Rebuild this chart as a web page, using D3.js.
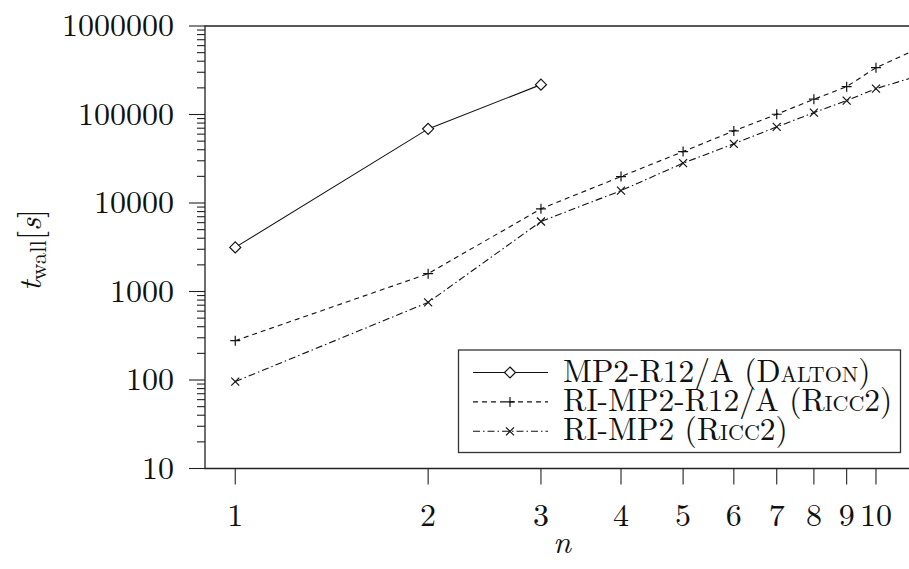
<!DOCTYPE html>
<html lang="en">
<head>
  <meta charset="UTF-8">
  <title>Wall time vs n</title>
  <script src="https://d3js.org/d3.v7.min.js"></script>
  <style>
    body {
      margin: 0;
      background-color: white;
    }

    .axis-line {
      stroke: #222;
      stroke-width: 1.3;
      fill: none;
    }

    .tick {
      stroke: #222;
      stroke-width: 1.1;
    }

    .series {
      fill: none;
      stroke: #111;
      stroke-width: 1.1;
    }

    .marker {
      fill: none;
      stroke: #111;
      stroke-width: 1.2;
    }
  </style>
</head>
<body>

<script>
  // data
  const nValues = [1, 2, 3, 4, 5, 6, 7, 8, 9, 10, 12];
  const daltonN = [1, 2, 3];
  const daltonTimes = [3150, 68800, 217500];
  const riR12Times = [278, 1590, 8600, 19900, 38100, 65300, 100700, 148800, 206500, 338000, 616000];
  const riMp2Times = [96, 753, 6180, 13800, 28200, 46600, 72500, 105000, 143500, 196000, 292000];

  const seriesNames = ["MP2-R12/A (Dalton)", "RI-MP2-R12/A (Ricc2)", "RI-MP2 (Ricc2)"];
  const xTicks = [1, 2, 3, 4, 5, 6, 7, 8, 9, 10];
  const yTicks = [10, 100, 1000, 10000, 100000, 1000000];

  const width = 909;
  const height = 569;
  const plotLeft = 205, plotTop = 26, plotBottom = 468.5, plotRight = 909;
  const FONT = '"Latin Modern Roman", "Liberation Serif", serif';

  const svg = d3.select("body").append("svg")
    .attr("width", width)
    .attr("height", height)
    .style("display", "block");

  function label(sel) {
    return sel.style("font-family", FONT).style("font-size", "32px").attr("fill", "#111");
  }

  const x = d3.scaleLog().domain([0.897, 11.26]).range([plotLeft, plotRight]);
  const y = d3.scaleLog().domain([10, 1000000]).range([plotBottom, plotTop]);

  // clip for the plot area
  svg.append("clipPath").attr("id", "plotClip")
    .append("rect")
    .attr("x", plotLeft).attr("y", plotTop)
    .attr("width", plotRight - plotLeft).attr("height", plotBottom - plotTop);

  // y ticks (major + minor)
  const minorY = [];
  yTicks.slice(0, -1).forEach(d => {
    for (let k = 2; k <= 9; k++) minorY.push(d * k);
  });

  svg.selectAll(".ymajor")
    .data(yTicks)
    .enter().append("line")
    .attr("class", "tick")
    .attr("x1", plotLeft - 16).attr("x2", plotLeft)
    .attr("y1", d => y(d)).attr("y2", d => y(d));

  svg.selectAll(".yminor")
    .data(minorY)
    .enter().append("line")
    .attr("class", "tick")
    .attr("x1", plotLeft - 8).attr("x2", plotLeft)
    .attr("y1", d => y(d)).attr("y2", d => y(d));

  label(svg.selectAll(".ylabel")
    .data(yTicks)
    .enter().append("text")
    .attr("text-anchor", "end")
    .attr("x", plotLeft - 31)
    .attr("y", d => y(d) + 10)
    .text(d => d3.format("d")(d)));

  // x ticks
  svg.selectAll(".xtick")
    .data(xTicks)
    .enter().append("line")
    .attr("class", "tick")
    .attr("x1", d => x(d)).attr("x2", d => x(d))
    .attr("y1", plotBottom).attr("y2", plotBottom + 16);

  label(svg.selectAll(".xlabel")
    .data(xTicks)
    .enter().append("text")
    .attr("text-anchor", "middle")
    .attr("x", d => x(d))
    .attr("y", 526)
    .text(d => d));

  // axis lines (no right border in the reference)
  svg.append("path")
    .attr("class", "axis-line")
    .attr("d", `M${plotRight},${plotTop}H${plotLeft}V${plotBottom}H${plotRight}`);

  // series
  const plot = svg.append("g").attr("clip-path", "url(#plotClip)");
  const line = d3.line().x(d => x(d[0])).y(d => y(d[1]));

  const dalton = daltonN.map((n, i) => [n, daltonTimes[i]]);
  const riR12 = nValues.map((n, i) => [n, riR12Times[i]]);
  const riMp2 = nValues.map((n, i) => [n, riMp2Times[i]]);

  const dashR12 = "5,4";
  const dashMp2 = "7,3,1.5,3";

  plot.append("path").attr("class", "series").attr("d", line(dalton));
  plot.append("path").attr("class", "series").attr("stroke-dasharray", dashR12).attr("d", line(riR12));
  plot.append("path").attr("class", "series").attr("stroke-dasharray", dashMp2).attr("d", line(riMp2));

  function diamond(g, cx, cy) {
    g.append("path")
      .attr("class", "marker")
      .style("fill", "white")
      .attr("d", `M${cx},${cy - 5.5}L${cx + 5.5},${cy}L${cx},${cy + 5.5}L${cx - 5.5},${cy}Z`);
  }
  function plus(g, cx, cy) {
    g.append("path")
      .attr("class", "marker")
      .attr("d", `M${cx - 5},${cy}H${cx + 5}M${cx},${cy - 5}V${cy + 5}`);
  }
  function cross(g, cx, cy) {
    g.append("path")
      .attr("class", "marker")
      .attr("d", `M${cx - 4},${cy - 4}L${cx + 4},${cy + 4}M${cx - 4},${cy + 4}L${cx + 4},${cy - 4}`);
  }

  dalton.forEach(d => diamond(plot, x(d[0]), y(d[1])));
  riR12.forEach(d => plus(plot, x(d[0]), y(d[1])));
  riMp2.forEach(d => cross(plot, x(d[0]), y(d[1])));

  // axis titles
  const yTitle = label(svg.append("text")
    .attr("transform", "translate(41,250) rotate(-90)")
    .attr("text-anchor", "middle"));
  yTitle.append("tspan").style("font-style", "italic").text("t");
  yTitle.append("tspan").attr("dy", 5).style("font-size", "23px").text("wall");
  yTitle.append("tspan").attr("dy", -5).text("[");
  yTitle.append("tspan").style("font-style", "italic").text("s");
  yTitle.append("tspan").text("]");

  label(svg.append("text")
    .attr("text-anchor", "middle")
    .attr("x", 562).attr("y", 553)
    .style("font-style", "italic")
    .text("n"));

  // legend
  const legend = svg.append("g");
  legend.append("rect")
    .attr("x", 458.5).attr("y", 350)
    .attr("width", 442).attr("height", 102.5)
    .attr("fill", "white")
    .attr("stroke", "#333")
    .attr("stroke-width", 1.3);

  const legendDash = [null, dashR12, dashMp2];
  const legendMark = [diamond, plus, cross];

  seriesNames.forEach((name, i) => {
    const cy = 372.5 + i * 29.4;
    legend.append("line")
      .attr("class", "series")
      .attr("x1", 473).attr("x2", 548)
      .attr("y1", cy).attr("y2", cy)
      .attr("stroke-dasharray", legendDash[i]);
    legendMark[i](legend, 510, cy);
    label(legend.append("text")
      .attr("x", 563).attr("y", cy + 9))
      .style("font-size", "31.5px")
      .style("font-variant", "small-caps")
      .text(name);
  });
</script>

</body>
</html>
